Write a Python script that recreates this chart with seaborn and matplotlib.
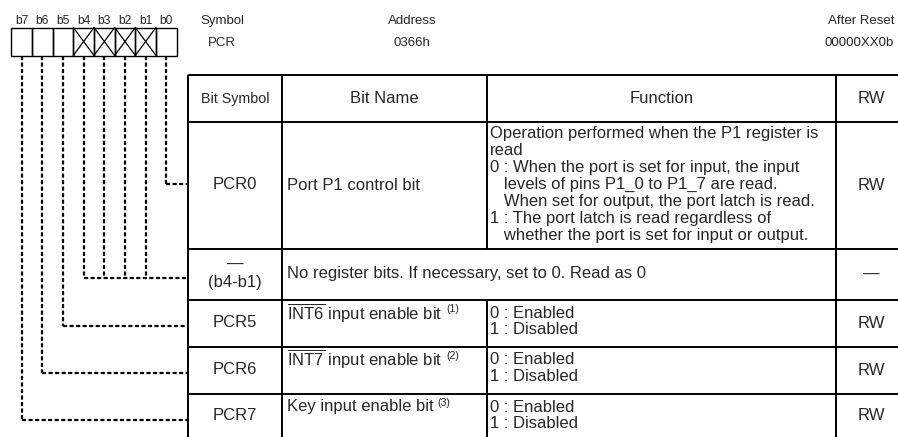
import matplotlib
matplotlib.use('Agg')
import matplotlib.pyplot as plt
import seaborn as sns

sns.set_theme(style='white')
plt.rcParams['font.family'] = ['Liberation Sans', 'DejaVu Sans']
plt.rcParams['mathtext.fontset'] = 'custom'
plt.rcParams['mathtext.rm'] = 'Liberation Sans'
plt.rcParams['mathtext.it'] = 'Liberation Sans:italic'
plt.rcParams['mathtext.bf'] = 'Liberation Sans:bold'
plt.rcParams['lines.scale_dashes'] = False

# ---------------- data ----------------
bit_labels = ['b7', 'b6', 'b5', 'b4', 'b3', 'b2', 'b1', 'b0']
unused_bits = ['b4', 'b3', 'b2', 'b1']
info_titles = ['Symbol', 'Address', 'After Reset']
info_values = ['PCR', '0366h', '00000XX0b']
header_labels = ['Bit Symbol', 'Bit Name', 'Function', 'RW']
row_symbols = ['PCR0', '\u2014\n(b4-b1)', 'PCR5', 'PCR6', 'PCR7']
row_bits = [['b0'], ['b4', 'b3', 'b2', 'b1'], ['b5'], ['b6'], ['b7']]
row_names = [
    'Port P1 control bit',
    'No register bits. If necessary, set to 0. Read as 0',
    r'$\overline{\mathrm{INT6}}$ input enable bit',
    r'$\overline{\mathrm{INT7}}$ input enable bit',
    'Key input enable bit',
]
row_notes = ['', '', '(1)', '(2)', '(3)']
row_functions = [
    ['Operation performed when the P1 register is',
     'read',
     '0 : When the port is set for input, the input',
     '   levels of pins P1_0 to P1_7 are read.',
     '   When set for output, the port latch is read.',
     '1 : The port latch is read regardless of',
     '   whether the port is set for input or output.'],
    [],
    ['0 : Enabled', '1 : Disabled'],
    ['0 : Enabled', '1 : Disabled'],
    ['0 : Enabled', '1 : Disabled'],
]
row_rw = ['RW', '\u2014', 'RW', 'RW', 'RW']

# ---------------- layout (pixels) ----------------
W, H = 898, 437
fig = plt.figure(figsize=(W / 100, H / 100), dpi=100)
fig.patch.set_facecolor('white')
ax = fig.add_axes([0, 0, 1, 1])
ax.set_xlim(0, W)
ax.set_ylim(H, 0)
ax.axis('off')

PX = 0.72  # px -> pt
FS_BODY = 16.6 * PX
FS_HEAD_SMALL = 14.2 * PX
FS_BITS = 12.0 * PX
FS_TOP = 13.2 * PX
FS_NOTE = 10.5 * PX

# register box
bx0, bw, by0, by1 = 11.3, 20.67, 27.5, 55.5
for i, lab in enumerate(bit_labels):
    x = bx0 + i * bw
    ax.add_patch(plt.Rectangle((x, by0), bw, by1 - by0, fill=False,
                               lw=1.0, ec='black'))
    ax.text(x + bw / 2, 20.5, lab, ha='center', va='center',
            fontsize=FS_BITS)
    if lab in unused_bits:
        ax.plot([x, x + bw], [by0, by1], color='black', lw=0.9)
        ax.plot([x, x + bw], [by1, by0], color='black', lw=0.9)

# top info
info_x = [222, 412, 894]
info_ha = ['center', 'center', 'right']
for t, v, x, ha in zip(info_titles, info_values, info_x, info_ha):
    ax.text(x, 21, t, ha=ha, va='center', fontsize=FS_TOP)
    ax.text(x, 42.5, v, ha=ha, va='center', fontsize=FS_TOP)

# table grid
col_x = [187.7, 282.3, 486.7, 836.0]
row_y = [75.0, 122.3, 249.0, 300.0, 346.7, 394.0, 440.0]
tlw = 1.4
for y in row_y[:-1]:
    ax.plot([col_x[0], W + 2], [y, y], color='black', lw=tlw,
            solid_capstyle='butt')
for j, x in enumerate(col_x):
    if j == 2:
        segs = [(row_y[0], row_y[2]), (row_y[3], row_y[-1])]
    else:
        segs = [(row_y[0], row_y[-1])]
    for a, b in segs:
        ax.plot([x, x], [a, b], color='black', lw=tlw, solid_capstyle='butt')

col_center = [(col_x[0] + col_x[1]) / 2, (col_x[1] + col_x[2]) / 2,
              (col_x[2] + col_x[3]) / 2, 871.7]
hy = (row_y[0] + row_y[1]) / 2
for k, (lab, cx) in enumerate(zip(header_labels, col_center)):
    ax.text(cx, hy, lab, ha='center', va='center',
            fontsize=FS_HEAD_SMALL if k == 0 else FS_BODY)

# rows
name_x = col_x[1] + 4.5
func_x = col_x[2] + 3.5
line_h0 = 17.0
line_h = 16.8
for r in range(len(row_symbols)):
    top = row_y[r + 1]
    bot = row_y[r + 2] if r < 4 else 438.0
    mid = (top + bot) / 2
    sym_lines = row_symbols[r].split('\n')
    n = len(sym_lines)
    for i, s in enumerate(sym_lines):
        ax.text(col_center[0], mid - 1 + (i - (n - 1) / 2) * 18.5, s,
                ha='center', va='center', fontsize=FS_BODY)
    ax.text(col_center[3], mid, row_rw[r], ha='center', va='center',
            fontsize=FS_BODY)
    lines = row_functions[r]
    if r == 1:
        ax.text(name_x, mid - 1, row_names[r], ha='left', va='center',
                fontsize=FS_BODY)
        continue
    if r == 0:
        ax.text(name_x, mid, row_names[r], ha='left', va='center',
                fontsize=FS_BODY)
        y0 = top + 11.5
        step = line_h0
    else:
        y0 = top + 13.0
        step = line_h
        t = ax.text(name_x, y0, row_names[r], ha='left', va='center',
                    fontsize=FS_BODY)
        fig.canvas.draw()
        bb = t.get_window_extent()
        xe = ax.transData.inverted().transform((bb.x1, bb.y0))[0]
        ax.text(xe + 4, y0 - 3.5, row_notes[r], ha='left', va='center',
                fontsize=FS_NOTE)
    for i, ln in enumerate(lines):
        ax.text(func_x, y0 + i * step, ln, ha='left', va='center',
                fontsize=FS_BODY)

# dashed connectors
dash = (0, (3.0, 1.7))
dlw = 1.6
conn_y = [184.3, 277.7, 325.7, 372.7, 420.0]
for r, bits in enumerate(row_bits):
    xs = [bx0 + bit_labels.index(b) * bw + bw / 2 for b in bits]
    yc = conn_y[r]
    for x in xs:
        ax.plot([x, x], [by1, yc], color='black', lw=dlw, linestyle=dash)
    ax.plot([min(xs), col_x[0]], [yc, yc], color='black', lw=dlw,
            linestyle=dash)

fig.savefig('out.png', dpi=100, facecolor='white')
